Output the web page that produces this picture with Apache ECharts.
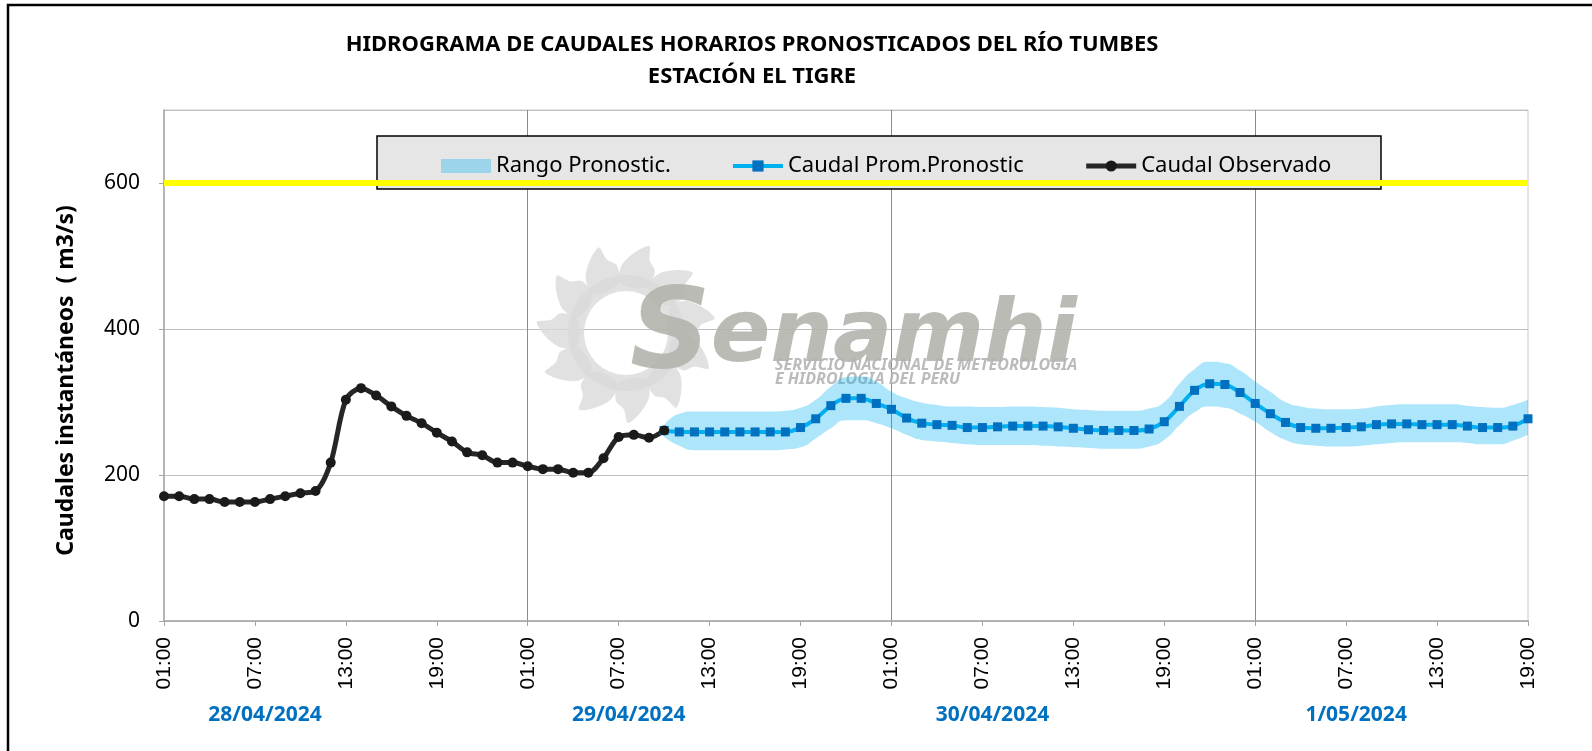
<!DOCTYPE html>
<html>
<head>
<meta charset="utf-8">
<script src="https://cdn.jsdelivr.net/npm/echarts@6/dist/echarts.min.js"></script>
<style>
  html, body { margin: 0; padding: 0; background: #fff; }
  #chart { width: 1592px; height: 751px; }
</style>
</head>
<body>
<div id="chart"></div>
<script>
// categorías horarias (01:00 del 28/04 a 19:00 del 1/05)
const hourLabels = ['01:00','02:00','03:00','04:00','05:00','06:00','07:00','08:00','09:00','10:00','11:00','12:00',
  '13:00','14:00','15:00','16:00','17:00','18:00','19:00','20:00','21:00','22:00','23:00','00:00']
const categories = [...hourLabels, ...hourLabels, ...hourLabels, ...hourLabels.slice(0, 19)]

const dateLabels = ['28/04/2024', '29/04/2024', '30/04/2024', '1/05/2024']
const dateLabelIdx = [6, 30, 54, 78]

// caudal observado (índices 0..33)
const observed = [171, 171, 167, 167, 163, 163, 163, 167, 171, 175, 178, 217, 303, 319, 309, 294, 281, 271,
  258, 246, 231, 227, 217, 217, 212, 208, 208, 203, 203, 223, 252, 255, 251, 261]

// caudal promedio pronosticado (índices 33..90)
const forecastStart = 33
const forecast = [261, 259, 259, 259, 259, 259, 259, 259, 259, 265, 277, 295, 305, 305, 298,
  290, 278, 271, 269, 268, 265, 265, 266, 267, 267, 267, 266, 264, 262, 261, 261, 261, 263, 273, 294, 316, 325, 324, 313,
  298, 284, 272, 265, 264, 264, 265, 266, 269, 270, 270, 269, 269, 269, 267, 265, 265, 267, 277]

// rango pronosticado (índices 33..90)
const bandStart = 33
const bandUpper = [268, 284, 287, 287, 287, 287, 287, 287, 288,
  292, 303, 321, 334, 335, 328,
  314, 305, 299, 296, 294, 294, 293, 293, 294, 294, 293, 292, 290, 289, 288, 288, 288, 291, 300, 325, 345, 355, 353, 343,
  328, 314, 300, 294, 291, 290, 290, 291, 294, 296, 297, 297, 297, 297, 295, 293, 292, 296, 303]
const bandLower = [252, 240, 234, 234, 234, 234, 234, 234, 235,
  238, 250, 264, 275, 275, 271,
  264, 255, 248, 246, 244, 242, 241, 241, 241, 241, 240, 239, 238, 237, 236, 236, 236, 239, 248, 268, 286, 294, 292, 284,
  273, 259, 248, 242, 240, 239, 239, 240, 242, 244, 245, 245, 245, 245, 244, 242, 242, 247, 255]

const threshold = 600

const pad = (n) => new Array(n).fill('-')
const FONT = "'Noto Sans', sans-serif"

// logo de fondo (sol)
function sunPetals(cx, cy) {
  const els = [{ type: 'ring', z: 3, silent: true, shape: { cx, cy, r: 58, r0: 42 }, style: { fill: '#d9d9d9', opacity: 0.8 } }]
  const p = (r, a) => [cx + r * Math.cos(a), cy + r * Math.sin(a)]
  for (let k = 0; k < 11; k++) {
    const a = (k / 11) * Math.PI * 2 + 0.3
    els.push({
      type: 'polygon', z: 3, silent: true,
      shape: { smooth: 0.35, points: [p(50, a - 0.26), p(70, a - 0.2), p(90, a + 0.1), p(76, a + 0.16), p(68, a + 0.28), p(50, a + 0.26)] },
      style: { fill: '#d9d9d9', opacity: 0.8 },
    })
  }
  return els
}

const chart = echarts.init(document.getElementById('chart'))

chart.setOption({
  animation: false,
  title: {
    text: 'HIDROGRAMA DE CAUDALES HORARIOS PRONOSTICADOS DEL RÍO TUMBES\nESTACIÓN EL TIGRE',
    left: 752,
    top: 29,
    padding: 0,
    textAlign: 'center',
    textStyle: { fontFamily: FONT, fontSize: 22, fontWeight: 'bold', color: '#000', lineHeight: 32 },
  },
  graphic: [
    { type: 'rect', z: 1, silent: true, shape: { x: 8, y: 5, width: 1700, height: 900 }, style: { fill: 'none', stroke: '#000', lineWidth: 2.5 } },
    ...sunPetals(626, 333),
    {
      type: 'text', z: 3, silent: true, left: 630, top: 282,
      style: {
        text: '{s|S}{r|enamhi}',
        rich: {
          s: { font: "italic bold 112px 'DejaVu Sans'", fill: '#b4b4ae' },
          r: { font: "italic bold 88px 'DejaVu Sans'", fill: '#b4b4ae' },
        },
        opacity: 0.9,
      },
    },
    {
      type: 'text', z: 3, silent: true, left: 775, top: 357,
      style: { text: 'SERVICIO NACIONAL DE METEOROLOGIA\nE HIDROLOGIA DEL PERU', font: "italic bold 16px 'Noto Sans'", lineHeight: 14, fill: '#b4b4b4', opacity: 0.9 },
    },
    { type: 'rect', z: 3, silent: true, shape: { x: 377, y: 136, width: 1004, height: 53 }, style: { fill: '#e6e6e6', stroke: '#000', lineWidth: 1.5 } },
  ],
  legend: {
    z: 5,
    left: 441,
    top: 155,
    padding: 0,
    itemWidth: 50,
    itemHeight: 14,
    itemGap: 60,
    selectedMode: false,
    textStyle: { fontFamily: FONT, fontSize: 22, color: '#000' },
    data: [
      { name: 'Rango Pronostic.', icon: 'rect', itemStyle: { color: 'rgba(0,176,240,0.32)' } },
      { name: 'Caudal Prom.Pronostic', lineStyle: { width: 4 } },
      { name: 'Caudal Observado', lineStyle: { width: 5 } },
    ],
  },
  grid: {
    left: 164, right: 64, top: 110, bottom: 130,
    show: true, borderColor: '#c8c8c8', borderWidth: 1,
  },
  xAxis: [
    {
      type: 'category',
      data: categories,
      boundaryGap: false,
      axisLine: { lineStyle: { color: '#a6a6a6', width: 1.5 } },
      axisTick: { show: true, length: 5, interval: (i) => i % 6 === 0, lineStyle: { color: '#a6a6a6' } },
      axisLabel: {
        interval: (i) => i % 6 === 0,
        rotate: 90,
        margin: 16,
        color: '#000',
        fontFamily: "'Liberation Sans', Arial, sans-serif",
        fontSize: 21,
      },
      splitLine: { show: true, interval: (i) => i % 24 === 0 && i > 0, lineStyle: { color: '#8c8c8c', width: 1 } },
    },
    {
      type: 'category',
      data: categories,
      boundaryGap: false,
      position: 'bottom',
      axisLine: { show: false },
      axisTick: { show: false },
      axisLabel: {
        interval: (i) => dateLabelIdx.includes(i),
        formatter: (v, i) => dateLabels[dateLabelIdx.indexOf(i)] || '',
        margin: 84,
        padding: [0, 0, 0, 20],
        color: '#0070c0',
        fontFamily: FONT,
        fontWeight: 'bold',
        fontSize: 21,
      },
      splitLine: { show: false },
    },
  ],
  yAxis: {
    type: 'value',
    min: 0,
    max: 700,
    interval: 200,
    name: 'Caudales instantáneos  ( m3/s)',
    nameLocation: 'middle',
    nameRotate: 90,
    nameGap: 86,
    nameTextStyle: { fontFamily: FONT, fontSize: 23, fontWeight: 'bold', color: '#000', padding: [0, 30, 0, 0] },
    axisLine: { show: true, lineStyle: { color: '#a6a6a6', width: 1.5 } },
    axisTick: { show: true, length: 5, lineStyle: { color: '#a6a6a6' } },
    axisLabel: { showMaxLabel: false, margin: 24, color: '#000', fontFamily: FONT, fontSize: 21 },
    splitLine: { lineStyle: { color: '#bfbfbf', width: 1 } },
  },
  series: [
    {
      name: 'bandLower',
      type: 'line',
      stack: 'rango',
      smooth: 0.6,
      symbol: 'none',
      silent: true,
      data: pad(bandStart).concat(bandLower),
      lineStyle: { opacity: 0 },
      markLine: {
        silent: true,
        symbol: 'none',
        label: { show: false },
        lineStyle: { color: '#ffff00', width: 6, type: 'solid' },
        data: [{ yAxis: threshold }],
      },
    },
    {
      name: 'Rango Pronostic.',
      type: 'line',
      stack: 'rango',
      smooth: 0.6,
      symbol: 'none',
      silent: true,
      color: 'rgba(0,176,240,0.32)',
      data: pad(bandStart).concat(bandUpper.map((u, i) => u - bandLower[i])),
      lineStyle: { opacity: 0 },
      areaStyle: { color: 'rgba(0,176,240,0.32)', opacity: 1 },
    },
    {
      name: 'Caudal Prom.Pronostic',
      type: 'line',
      smooth: 0.3,
      symbol: 'rect',
      symbolSize: 9,
      showAllSymbol: true,
      color: '#0070c0',
      data: pad(forecastStart).concat(forecast),
      lineStyle: { color: '#00b0f0', width: 4 },
      itemStyle: { color: '#0070c0' },
    },
    {
      name: 'Caudal Observado',
      type: 'line',
      smooth: 0.3,
      symbol: 'circle',
      symbolSize: 10,
      showAllSymbol: true,
      color: '#1a1a1a',
      data: observed,
      lineStyle: { color: '#262626', width: 5 },
      itemStyle: { color: '#1a1a1a' },
    },
  ],
})
</script>
</body>
</html>
